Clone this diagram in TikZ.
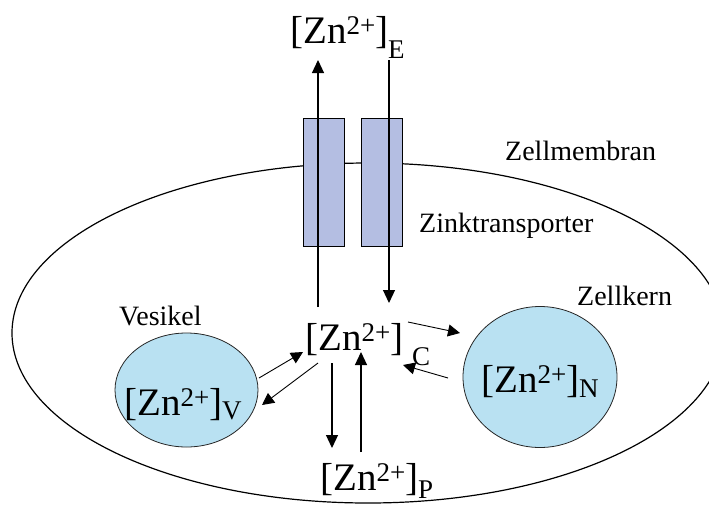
\documentclass[tikz,border=0pt]{standalone}
\usepackage{fontspec}
\setmainfont{Liberation Serif}
\usepackage{tikz}
\usetikzlibrary{arrows.meta,shapes.geometric}
\usepackage{xcolor}
\definecolor{transpblue}{RGB}{180,190,226}
\definecolor{organblue}{RGB}{185,225,242}
% concentration label, optional arg = drop of the index
\newcommand{\zink}[2][12pt]{[Zn\raisebox{9pt}{\fontsize{27}{27}\selectfont 2+}]\raisebox{-#1}{\fontsize{27}{27}\selectfont #2}}

\begin{document}
\begin{tikzpicture}[x=1pt,y=-1pt,
  conc/.style={anchor=base west,inner sep=0pt,font=\rmfamily\fontsize{39}{42}\selectfont},
  lbl/.style={anchor=base west,inner sep=0pt,font=\rmfamily\fontsize{28}{30}\selectfont},
  transp/.style={draw,line width=1pt,fill=transpblue,minimum width=41pt,minimum height=128pt,inner sep=0pt},
  organelle/.style={draw=black!85,line width=0.8pt,fill=organblue,ellipse,inner sep=0pt},
  flow/.style={line width=1.2pt,-{Triangle[length=13pt,width=12pt]}},
  swap/.style={line width=0.9pt,-{Triangle[length=12pt,width=12pt]}}]
\clip (0,0) rectangle (709,504);
\draw[line width=1.2pt] (368,333) ellipse [x radius=356pt,y radius=170pt];
\node[transp] (tr1) at (323.5,182) {};
\node[transp] (tr2) at (382,182) {};
\node[organelle,minimum width=143pt,minimum height=114pt] (ves) at (186.5,390) {};
\node[organelle,minimum width=154pt,minimum height=141pt] (nuc) at (540,377) {};
\node[conc] (ze) at (290,43) {\zink[15pt]{E}};
\node[conc] (zc) at (305,350) {\zink[15pt]{\kern9pt C}};
\node[conc] (zv) at (124,415) {\zink[4pt]{V}};
\node[conc] (zn) at (481,392) {\zink[5pt]{N}};
\node[conc] (zp) at (320,490) {\zink[8pt]{P}};
\node[lbl] (membran) at (505,160) {Zellmembran};
\node[lbl] (transporter) at (419,232) {Zinktransporter};
\node[lbl] (kern) at (577,305) {Zellkern};
\node[lbl] (vesikel) at (119,325) {Vesikel};
% through the membrane
\draw[flow] ([shift={(13,-43)}]zc.base west) -- ([shift={(28,17)}]ze.base west);
\draw[flow] ([shift={(99,17)}]ze.base west) -- ([shift={(84,-47)}]zc.base west);
\draw[flow] ([shift={(27,13)}]zc.base west) -- ([shift={(12,-42)}]zp.base west);
\draw[flow] ([shift={(41,-38)}]zp.base west) -- ([shift={(56,2)}]zc.base west);
% exchange with the organelles
\draw[swap] ([shift={(103,-28)}]zc.base west) -- ([shift={(-80,-44)}]nuc.center);
\draw[swap] ([shift={(-92,1)}]nuc.center) -- ([shift={(98,15)}]zc.base west);
\draw[swap] ([shift={(72.5,-12)}]ves.center) -- ([shift={(-2,2)}]zc.base west);
\draw[swap] ([shift={(13,13)}]zc.base west) -- ([shift={(75.5,15)}]ves.center);
\end{tikzpicture}
\end{document}
